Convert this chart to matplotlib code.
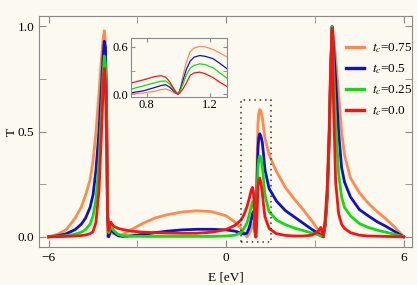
import numpy as np
import matplotlib
matplotlib.use("Agg")
import matplotlib.pyplot as plt
from matplotlib.patches import Rectangle

plt.rcParams['font.family'] = ['Liberation Serif', 'DejaVu Serif']
plt.rcParams['mathtext.fontset'] = 'stix'

# energy grid (eV): left band edge, plateau, Fano region, right band edge
E = [-6.0, -5.7, -5.4, -5.1, -4.9, -4.75, -4.6, -4.5, -4.4, -4.3, -4.22, -4.16,
     -4.12, -4.08, -4.04, -4.01, -3.97, -3.9, -3.8, -3.65, -3.5,
     -3.2, -2.8, -2.4, -2.0, -1.5, -1.0, -0.5, 0.0, 0.3, 0.5, 0.6,
     0.70, 0.785, 0.85, 0.89, 0.92, 0.945, 0.97, 0.985, 1.0, 1.015, 1.03,
     1.05, 1.075, 1.1, 1.135, 1.17, 1.22, 1.26, 1.31,
     1.45, 1.7, 2.0, 2.3, 2.6, 2.9, 3.1, 3.2, 3.28, 3.35, 3.42, 3.48, 3.53,
     3.58, 3.63, 3.7, 3.8, 3.9, 4.0, 4.2, 4.5, 4.8, 5.1, 5.4, 5.7, 6.0]

T_075 = [0.0, 0.012, 0.035, 0.09, 0.14, 0.2, 0.27, 0.36, 0.5, 0.68, 0.84, 0.94,
         0.98, 0.92, 0.55, 0.0, 0.01, 0.02, 0.015, 0.008, 0.01,
         0.035, 0.065, 0.09, 0.105, 0.118, 0.124, 0.12, 0.1, 0.07, 0.04, 0.02,
         0.0, 0.017, 0.038, 0.058, 0.066, 0.05, 0.02, 0.008, 0.0, 0.1, 0.24,
         0.4, 0.54, 0.585, 0.605, 0.6, 0.567, 0.525, 0.47,
         0.39, 0.31, 0.235, 0.18, 0.13, 0.075, 0.035, 0.012, 0.0, 0.05, 0.19, 0.45, 0.78,
         1.0, 0.95, 0.85, 0.68, 0.5, 0.39, 0.28, 0.21, 0.16, 0.12, 0.085, 0.045, 0.0]

T_05 = [0.0, 0.005, 0.015, 0.035, 0.06, 0.09, 0.14, 0.2, 0.32, 0.5, 0.7, 0.86,
        0.93, 0.9, 0.6, 0.1, 0.0, 0.035, 0.02, 0.005, 0.002,
        0.005, 0.012, 0.02, 0.027, 0.033, 0.036, 0.036, 0.033, 0.027, 0.018, 0.014,
        0.017, 0.046, 0.085, 0.11, 0.12, 0.09, 0.04, 0.015, 0.0, 0.08, 0.18,
        0.31, 0.42, 0.47, 0.49, 0.48, 0.45, 0.395, 0.32,
        0.23, 0.17, 0.125, 0.095, 0.065, 0.035, 0.018, 0.007, 0.0, 0.06, 0.2, 0.46, 0.78,
        1.0, 0.9, 0.75, 0.5, 0.33, 0.26, 0.19, 0.13, 0.1, 0.072, 0.05, 0.025, 0.0]

T_025 = [0.0, 0.002, 0.006, 0.013, 0.022, 0.035, 0.06, 0.1, 0.18, 0.35, 0.58, 0.77,
         0.86, 0.82, 0.55, 0.12, 0.02, 0.048, 0.03, 0.012, 0.005,
         0.003, 0.002, 0.002, 0.002, 0.002, 0.002, 0.002, 0.004, 0.008, 0.02, 0.04,
         0.065, 0.109, 0.145, 0.165, 0.168, 0.13, 0.06, 0.025, 0.0, 0.06, 0.13,
         0.24, 0.33, 0.365, 0.385, 0.375, 0.335, 0.275, 0.2,
         0.12, 0.08, 0.058, 0.042, 0.03, 0.018, 0.01, 0.004, 0.0, 0.07, 0.22, 0.47, 0.79,
         1.0, 0.8, 0.55, 0.3, 0.19, 0.14, 0.1, 0.063, 0.045, 0.032, 0.022, 0.012, 0.0]

T_00 = [0.0, 0.001, 0.002, 0.004, 0.006, 0.009, 0.015, 0.025, 0.07, 0.22, 0.48, 0.7,
        0.8, 0.74, 0.45, 0.12, 0.03, 0.07, 0.05, 0.04, 0.035,
        0.027, 0.022, 0.02, 0.018, 0.017, 0.017, 0.022, 0.035, 0.055, 0.08, 0.105,
        0.142, 0.185, 0.223, 0.235, 0.215, 0.16, 0.075, 0.03, 0.0, 0.03, 0.07,
        0.14, 0.24, 0.27, 0.28, 0.26, 0.21, 0.155, 0.096,
        0.04, 0.015, 0.007, 0.004, 0.004, 0.008, 0.025, 0.045, 0.0, 0.09, 0.25, 0.5, 0.8,
        0.99, 0.62, 0.26, 0.11, 0.06, 0.04, 0.02, 0.008, 0.004, 0.003, 0.002, 0.001, 0.0]

labels = ['$t_c$=0.75', '$t_c$=0.5', '$t_c$=0.25', '$t_c$=0.0']
colors = ['#ff8a4c', '#1010c8', '#10dd10', '#ff1010']
series = [T_075, T_05, T_025, T_00]

bg = '#fcf9f1'
frame = '#8a8a8a'

fig = plt.figure(figsize=(4.17, 2.85), dpi=100, facecolor=bg)
ax = fig.add_axes([0.094, 0.132, 0.894, 0.812])
ax.set_facecolor(bg)

for T, c, lab in zip(series, colors, labels):
    ax.plot(E, T, color=c, lw=2.0, label=lab, solid_joinstyle='round')

ax.set_xlim(-6.32, 6.28)
ax.set_ylim(-0.05, 1.05)
ax.set_xticks([-6, 0, 6])
ax.set_xticks([-3, 3], minor=True)
ax.set_yticks([0, 0.5, 1.0])
ax.set_yticklabels(['0.0', '0.5', '1.0'])
ax.set_yticks([0.25, 0.75], minor=True)
for s in ax.spines.values():
    s.set_color(frame)
ax.tick_params(which='both', direction='in', top=True, right=True,
               color=frame, labelsize=9.5, length=5)

ax.set_xlabel('E [eV]', fontsize=9.5, labelpad=5)
ax.set_ylabel('T', fontsize=9.5, labelpad=0)

# dotted box marking the zoomed region
box = Rectangle((0.5, -0.025), 1.0, 0.675, fill=False, ls=(0, (1, 2.5)),
                lw=1.1, ec='#333333', zorder=5)
ax.add_patch(box)

leg = ax.legend(loc='upper left', bbox_to_anchor=(0.81, 0.913), frameon=False,
                fontsize=9.5, handlelength=1.35, handletextpad=0.55,
                labelspacing=0.55, borderaxespad=0)
for h in leg.get_lines():
    h.set_linewidth(2.4)

# inset
ins = fig.add_axes([0.314, 0.661, 0.230, 0.204])
ins.set_facecolor(bg)
for T, c in zip(series, colors):
    ins.plot(E, T, color=c, lw=0.9)
ins.set_xlim(0.70, 1.307)
ins.set_ylim(-0.03, 0.706)
ins.set_xticks([0.8, 1.2])
ins.set_yticks([0.0, 0.6])
ins.set_yticklabels(['0.0', '0.6'])
ins.set_yticks([0.3], minor=True)
for s in ins.spines.values():
    s.set_color(frame)
ins.tick_params(which='both', direction='in', top=True, right=True,
               color=frame, labelsize=9, length=3, pad=2)

fig.savefig('out.png', dpi=100, facecolor=bg)
